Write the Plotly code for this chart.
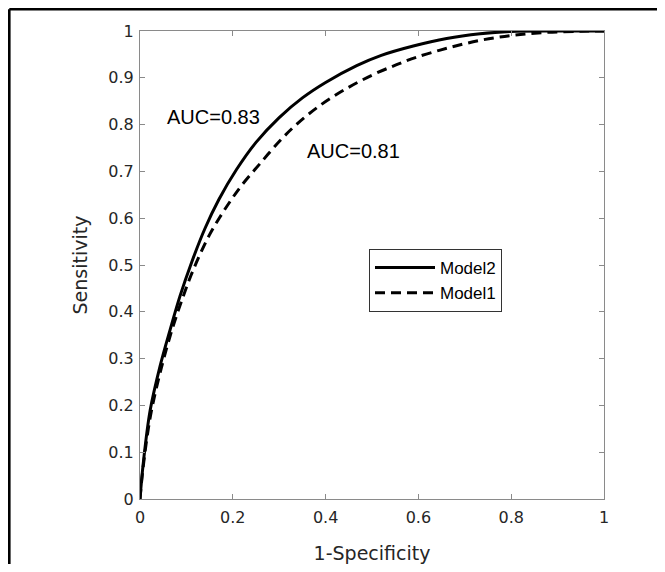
import plotly.graph_objects as go

# Model2 (solid) ROC curve
model2_fpr = [0, 0.007, 0.022, 0.043, 0.065, 0.086, 0.111, 0.14, 0.17, 0.208, 0.25,
              0.30, 0.35, 0.40, 0.467, 0.52, 0.589, 0.661, 0.733, 0.80, 0.9, 1.0]
model2_tpr = [0, 0.076, 0.19, 0.283, 0.362, 0.433, 0.505, 0.578, 0.640, 0.704, 0.762,
              0.815, 0.857, 0.890, 0.926, 0.948, 0.968, 0.984, 0.994, 0.999, 1.0, 1.0]

# Model1 (dashed) ROC curve
model1_fpr = [0, 0.007, 0.023, 0.046, 0.07, 0.092, 0.11, 0.129, 0.15, 0.172, 0.195,
              0.219, 0.259, 0.302, 0.338, 0.388, 0.445, 0.503, 0.553, 0.596, 0.661,
              0.733, 0.804, 0.876, 0.95, 1.0]
model1_tpr = [0, 0.07, 0.18, 0.28, 0.365, 0.43, 0.478, 0.522, 0.565, 0.602, 0.637,
              0.670, 0.717, 0.766, 0.801, 0.841, 0.877, 0.907, 0.928, 0.944, 0.963,
              0.980, 0.991, 0.997, 0.9995, 1.0]

auc_labels = ["AUC=0.83", "AUC=0.81"]
x_ticks = [0, 0.2, 0.4, 0.6, 0.8, 1]
y_ticks = [0, 0.1, 0.2, 0.3, 0.4, 0.5, 0.6, 0.7, 0.8, 0.9, 1]

OFF = 8  # page body margin
W, H = 665 - OFF, 572 - 2 * OFF
L, R, T, B = 132, 61, 23, 65
pw, ph = W - L - R, H - T - B
X0, YB = OFF + L, OFF + T + ph  # page pixel of plot left / bottom

def px(xp):
    return (xp - X0) / pw

def py(yp):
    return (YB - yp) / ph

fig = go.Figure()
fig.add_trace(go.Scatter(x=model2_fpr, y=model2_tpr, mode="lines", name="Model2",
                         line=dict(color="black", width=3, shape="spline")))
fig.add_trace(go.Scatter(x=model1_fpr, y=model1_tpr, mode="lines", name="Model1",
                         line=dict(color="black", width=3, dash="10px,6px", shape="spline")))

axis_common = dict(
    range=[0, 1], showgrid=False, zeroline=False, showline=True, mirror="ticks",
    linecolor="#8a8a8a", linewidth=1, ticks="inside", ticklen=5, tickcolor="#8a8a8a",
    automargin=False,
    tickfont=dict(family="DejaVu Sans", size=16, color="#262626"),
)
fig.update_xaxes(**axis_common, tickvals=x_ticks, ticklabelstandoff=4,
                 title=dict(text="1-Specificity", standoff=23,
                            font=dict(family="DejaVu Sans", size=19, color="#262626")))
fig.update_yaxes(**axis_common, tickvals=y_ticks, ticklabelstandoff=2,
                 title=dict(text="Sensitivity", standoff=15,
                            font=dict(family="DejaVu Sans", size=19, color="#262626")))

fig.add_annotation(x=0.054, y=0.816, xref="x", yref="y", text=auc_labels[0],
                   showarrow=False, xanchor="left", yanchor="middle",
                   font=dict(family="Liberation Sans", size=20, color="black"))
fig.add_annotation(x=0.356, y=0.744, xref="x", yref="y", text=auc_labels[1],
                   showarrow=False, xanchor="left", yanchor="middle",
                   font=dict(family="Liberation Sans", size=20, color="black"))

# outer frame (top and left edges visible in the reference), kept inside the figure area
fx, fy = OFF + 1.3, OFF + 1.3
fig.add_shape(type="line", xref="paper", yref="paper", x0=px(fx), x1=px(OFF + W + 20),
              y0=py(fy), y1=py(fy), line=dict(color="black", width=2.6))
fig.add_shape(type="line", xref="paper", yref="paper", x0=px(fx), x1=px(fx),
              y0=py(fy), y1=py(OFF + H + 20), line=dict(color="black", width=2.6))

fig.update_layout(
    width=W, height=H, margin=dict(l=L, r=R, t=T, b=B),
    plot_bgcolor="white", paper_bgcolor="white",
    showlegend=True,
    legend=dict(x=px(369), y=py(249), xanchor="left", yanchor="top",
                bordercolor="#333333", borderwidth=1, bgcolor="white",
                font=dict(family="Liberation Sans", size=17, color="black"),
                itemwidth=60, tracegroupgap=0),
)

fig.write_html("out.html")
